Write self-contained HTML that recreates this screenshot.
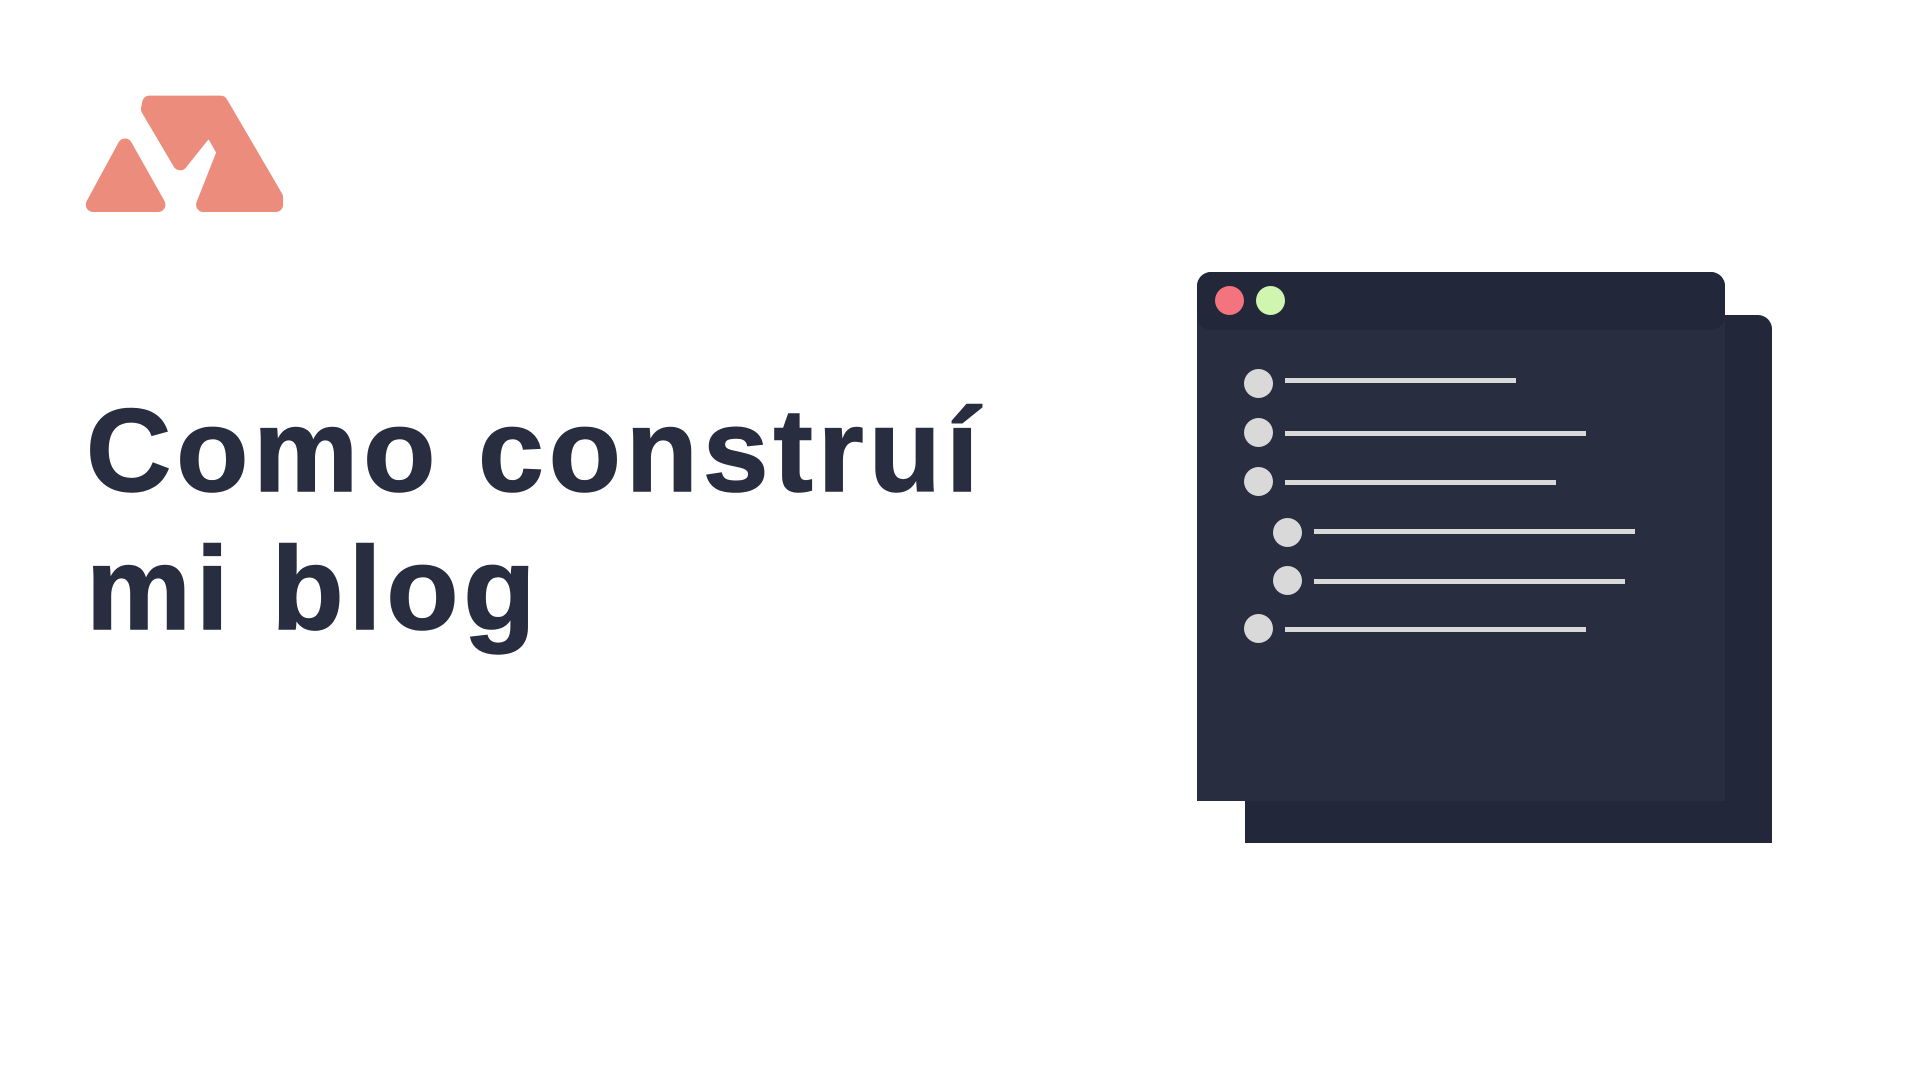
<!DOCTYPE html>
<html><head><meta charset="utf-8"><style>
html,body{margin:0;padding:0;background:#fff;width:1920px;height:1080px;overflow:hidden;position:relative}
.t{position:absolute;left:86px;font-family:"Liberation Sans",sans-serif;font-weight:bold;color:#282d3f;font-size:118px;line-height:1;white-space:nowrap;letter-spacing:5px;-webkit-text-stroke:1.5px #282d3f}
.d{position:absolute;border-radius:50%;width:29px;height:29px;background:#d9d9d9}
.l{position:absolute;height:5px;background:#d9d9d9}
</style></head><body>
<svg style="position:absolute;left:0;top:0" width="400" height="260">
<g transform="scale(1.2255)" fill="#ec8c7c" stroke="#ec8c7c" stroke-width="12" stroke-linejoin="round">
<polygon points="102,119 76,167 129,167"/>
<polygon points="122,84 180,84 225,161 225,167 166,167 183,124 171,103 147,133 121,89"/>
</g></svg>
<div class="t" style="top:392px">Como construí</div>
<div class="t" style="top:530px">mi blog</div>
<div style="position:absolute;left:1245px;top:315px;width:527px;height:528px;background:#222839;border-radius:14px 14px 0 0"></div>
<div style="position:absolute;left:1197px;top:272px;width:528px;height:529px;background:#282d40;border-radius:14px 14px 0 0"></div>
<div style="position:absolute;left:1197px;top:272px;width:528px;height:58px;background:#222839;border-radius:14px"></div>
<div class="d" style="left:1215px;top:286px;background:#f3747e"></div>
<div class="d" style="left:1256px;top:286px;background:#d0f5b0"></div>
<div class="d" style="left:1244px;top:369px"></div><div class="l" style="left:1285px;top:378px;width:231px"></div>
<div class="d" style="left:1244px;top:418px"></div><div class="l" style="left:1285px;top:431px;width:301px"></div>
<div class="d" style="left:1244px;top:467px"></div><div class="l" style="left:1285px;top:480px;width:271px"></div>
<div class="d" style="left:1273px;top:518px"></div><div class="l" style="left:1314px;top:529px;width:321px"></div>
<div class="d" style="left:1273px;top:566px"></div><div class="l" style="left:1314px;top:579px;width:311px"></div>
<div class="d" style="left:1244px;top:614px"></div><div class="l" style="left:1285px;top:627px;width:301px"></div>
</body></html>
